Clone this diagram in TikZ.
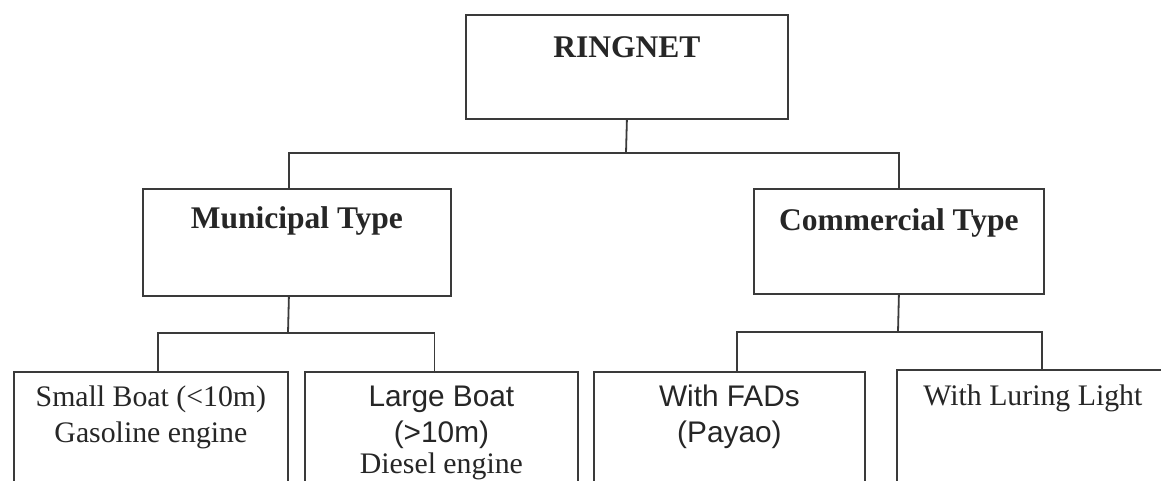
\documentclass[tikz,border=0pt]{standalone}
\usepackage{fontspec}
\setmainfont{Liberation Serif}
\newfontfamily\arialf{Liberation Sans}
\definecolor{linec}{HTML}{3A3A3A}
\definecolor{textc}{HTML}{262626}
\newcommand{\hdrfont}{\fontsize{31.5}{36}\selectfont\bfseries}
\newcommand{\smfont}{\fontsize{29.8}{36}\selectfont}
\tikzset{
  box/.style={draw=linec, line width=1.8pt, inner sep=0pt, anchor=north west, text=textc},
  conn/.style={draw=linec, line width=1.8pt}
}
\begin{document}
\begin{tikzpicture}[x=1pt,y=1pt]
\useasboundingbox (0,0) rectangle (1161,-481);
\fill[white] (0,0) rectangle (1161,-481);
\clip (0,0) rectangle (1161,-481);
% top level
\node[box] (ring) at (465,-14) {\parbox[t][104pt][t]{322pt}{\centering\hdrfont\rule{0pt}{43pt}RINGNET}};
\node[box] (mun) at (142,-188) {\parbox[t][107pt][t]{308pt}{\centering\hdrfont\rule{0pt}{40pt}Municipal Type}};
\node[box] (com) at (753,-188) {\parbox[t][105pt][t]{290pt}{\centering\hdrfont\rule{0pt}{42pt}Commercial Type}};
% bottom row
\node[box] (b1) at (13,-371) {\parbox[t][140pt][t]{274pt}{\centering\smfont\rule{0pt}{35pt}Small Boat (<10m)\\Gasoline engine}};
\node[box] (b2) at (304,-371) {\parbox[t][140pt][t]{273pt}{\centering\smfont\rule{0pt}{35pt}{\arialf Large Boat}\\{\arialf (>10m)}\\[-5pt]Diesel engine}};
\node[box] (b3) at (593,-371) {\parbox[t][140pt][t]{271pt}{\centering\smfont\arialf\rule{0pt}{35pt}With FADs\\(Payao)}};
\node[box] (b4) at (896,-369) {\parbox[t][140pt][t]{272pt}{\centering\smfont\rule{0pt}{36pt}With Luring Light}};
% connectors level 1
\coordinate (j0) at (626,-153);
\draw[conn] (ring.south) -- (j0);
\draw[conn] ([xshift=-8pt]mun.north) |- (j0) -| (com.north);
% connectors level 2 (municipal)
\coordinate (j1) at (288,-333);
\draw[conn] ([xshift=-8pt]mun.south) -- (j1);
\draw[conn] ([xshift=7pt]b1.north) |- (j1) -| ([xshift=-7pt]b2.north);
% connectors level 2 (commercial)
\coordinate (j2) at (898,-332);
\draw[conn] (com.south) -- (j2);
\draw[conn] ([xshift=7.5pt]b3.north) |- (j2) -| ([xshift=9pt]b4.north);
\end{tikzpicture}
\end{document}
